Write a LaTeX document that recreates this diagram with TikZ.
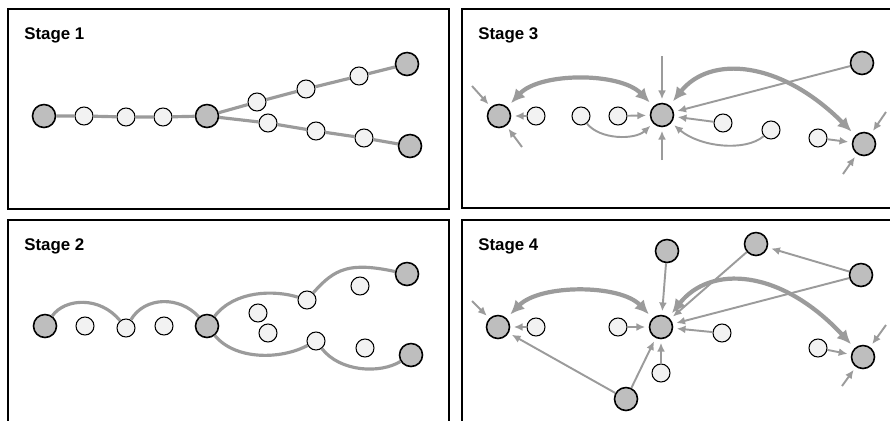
\documentclass[tikz,border=0pt]{standalone}
\usepackage{fontspec}
\setmainfont{Liberation Sans}
\usetikzlibrary{arrows.meta}
\definecolor{hubfill}{RGB}{190,190,190}
\definecolor{dotfill}{RGB}{242,242,242}
\definecolor{linkc}{RGB}{155,155,155}

\begin{document}
\begin{tikzpicture}[x=0.02cm, y=-0.02cm,
	hub/.style={circle, draw=black, line width=0.9pt, fill=hubfill, minimum size=0.46cm, inner sep=0pt},
	dot/.style={circle, draw=black, line width=0.6pt, fill=dotfill, minimum size=0.36cm, inner sep=0pt},
	panel/.style={draw=black, line width=1.1pt},
	stagelabel/.style={anchor=west, font=\bfseries\fontsize{9.6}{12}\selectfont, inner sep=0pt},
	link/.style={draw=linkc, line width=1.8pt},
	pull/.style={draw=linkc, line width=1.1pt, -{Latex[length=5pt,width=4.5pt]}, shorten >=2pt},
	swap/.style={draw=linkc, line width=2.4pt, {Latex[length=8pt,width=7.5pt]}-{Latex[length=8pt,width=7.5pt]}, shorten >=3pt, shorten <=3pt}]
	\useasboundingbox (0,0) rectangle (890,420);

	% panels
	\draw[panel] (8,9) rectangle (449,209);
	\draw[panel] (462,9) rectangle (895,208);
	\draw[panel] (8,220) rectangle (449,425);
	\draw[panel] (462,220) rectangle (895,425);
	\node[stagelabel] (lab1) at (24,35) {Stage 1};
	\node[stagelabel] (lab3) at (478,35) {Stage 3};
	\node[stagelabel] (lab2) at (24,246) {Stage 2};
	\node[stagelabel] (lab4) at (478,246) {Stage 4};

	% stage 1
	\node[hub] (s1a) at (44,116) {};
	\node[dot] (s1b) at (84,116) {};
	\node[dot] (s1c) at (126,117) {};
	\node[dot] (s1d) at (163,117) {};
	\node[hub] (s1e) at (207,116) {};
	\node[dot] (s1f) at (257,102) {};
	\node[dot] (s1g) at (306,89) {};
	\node[dot] (s1h) at (359,76) {};
	\node[hub] (s1i) at (407,64) {};
	\node[dot] (s1j) at (268,123) {};
	\node[dot] (s1k) at (316,131) {};
	\node[dot] (s1l) at (364,138) {};
	\node[hub] (s1m) at (410,146) {};
	\draw[link] (s1a) -- (s1b) -- (s1c) -- (s1d) -- (s1e);
	\draw[link] (s1e) -- (s1f) -- (s1g) -- (s1h) -- (s1i);
	\draw[link] (s1e) -- (s1j) -- (s1k) -- (s1l) -- (s1m);

	% stage 2
	\node[hub] (s2a) at (45,326) {};
	\node[dot] (s2b) at (85,326) {};
	\node[dot] (s2c) at (126,328) {};
	\node[dot] (s2d) at (164,326) {};
	\node[hub] (s2e) at (207,326) {};
	\node[dot] (s2f) at (258,313) {};
	\node[dot] (s2g) at (268,333) {};
	\node[dot] (s2h) at (307,300) {};
	\node[dot] (s2i) at (316,341) {};
	\node[dot] (s2j) at (360,286) {};
	\node[dot] (s2k) at (365,348) {};
	\node[hub] (s2l) at (407,274) {};
	\node[hub] (s2m) at (411,355) {};
	\draw[link] (s2a) .. controls (65,298) and (100,296) .. (s2c);
	\draw[link] (s2c) .. controls (145,296) and (180,296) .. (s2e);
	\draw[link] (s2e) .. controls (235,290) and (275,290) .. (s2h);
	\draw[link] (s2h) .. controls (335,268) and (350,262) .. (s2l);
	\draw[link] (s2e) .. controls (235,360) and (280,360) .. (s2i);
	\draw[link] (s2i) .. controls (340,372) and (380,374) .. (s2m);

	% stage 3
	\node[hub] (s3L) at (499,116) {};
	\node[dot] (s3b) at (536,116) {};
	\node[dot] (s3c) at (581,116) {};
	\node[dot] (s3d) at (618,116) {};
	\node[hub] (s3C) at (662,115) {};
	\node[dot] (s3e) at (723,123) {};
	\node[dot] (s3f) at (771,130) {};
	\node[dot] (s3g) at (818,138) {};
	\node[hub] (s3R) at (864,144) {};
	\node[hub] (s3T) at (862,63) {};
	\coordinate (s3in1) at (472,86);
	\coordinate (s3in2) at (522,147);
	\coordinate (s3in3) at (662,56);
	\coordinate (s3in4) at (662,160);
	\coordinate (s3in5) at (886,112);
	\coordinate (s3in6) at (843,174);
	\draw[swap] (s3L) .. controls (540,72) and (620,72) .. (s3C);
	\draw[swap] (s3C) .. controls (710,55) and (780,60) .. (s3R);
	\draw[pull] (s3b) -- (s3L);
	\draw[pull] (s3d) -- (s3C);
	\draw[pull] (s3c) .. controls (600,140) and (635,140) .. (s3C);
	\draw[pull] (s3e) -- (s3C);
	\draw[pull] (s3f) .. controls (745,152) and (700,147) .. (s3C);
	\draw[pull] (s3T) -- (s3C);
	\draw[pull] (s3g) -- (s3R);
	\draw[pull] (s3in1) -- (s3L);
	\draw[pull] (s3in2) -- (s3L);
	\draw[pull] (s3in3) -- (s3C);
	\draw[pull] (s3in4) -- (s3C);
	\draw[pull] (s3in5) -- (s3R);
	\draw[pull] (s3in6) -- (s3R);

	% stage 4
	\node[hub] (s4L) at (498,327) {};
	\node[dot] (s4b) at (536,327) {};
	\node[dot] (s4d) at (618,327) {};
	\node[hub] (s4C) at (661,327) {};
	\node[dot] (s4e) at (722,333) {};
	\node[dot] (s4f) at (661,373) {};
	\node[hub] (s4B) at (626,399) {};
	\node[hub] (s4T) at (667,251) {};
	\node[hub] (s4U) at (756,244) {};
	\node[hub] (s4V) at (861,275) {};
	\node[dot] (s4g) at (818,348) {};
	\node[hub] (s4R) at (863,357) {};
	\coordinate (s4in1) at (472,301);
	\coordinate (s4in2) at (886,325);
	\coordinate (s4in3) at (842,386);
	\draw[swap] (s4L) .. controls (540,284) and (620,284) .. (s4C);
	\draw[swap] (s4C) .. controls (710,265) and (780,268) .. (s4R);
	\draw[pull] (s4b) -- (s4L);
	\draw[pull] (s4d) -- (s4C);
	\draw[pull] (s4e) -- (s4C);
	\draw[pull] (s4f) -- (s4C);
	\draw[pull] (s4B) -- (s4C);
	\draw[pull] (s4B) -- (s4L);
	\draw[pull] (s4T) -- (s4C);
	\draw[pull] (s4U) -- (s4C);
	\draw[pull] (s4V) -- (s4U);
	\draw[pull] (s4V) -- (s4C);
	\draw[pull] (s4g) -- (s4R);
	\draw[pull] (s4in1) -- (s4L);
	\draw[pull] (s4in2) -- (s4R);
	\draw[pull] (s4in3) -- (s4R);
\end{tikzpicture}
\end{document}
